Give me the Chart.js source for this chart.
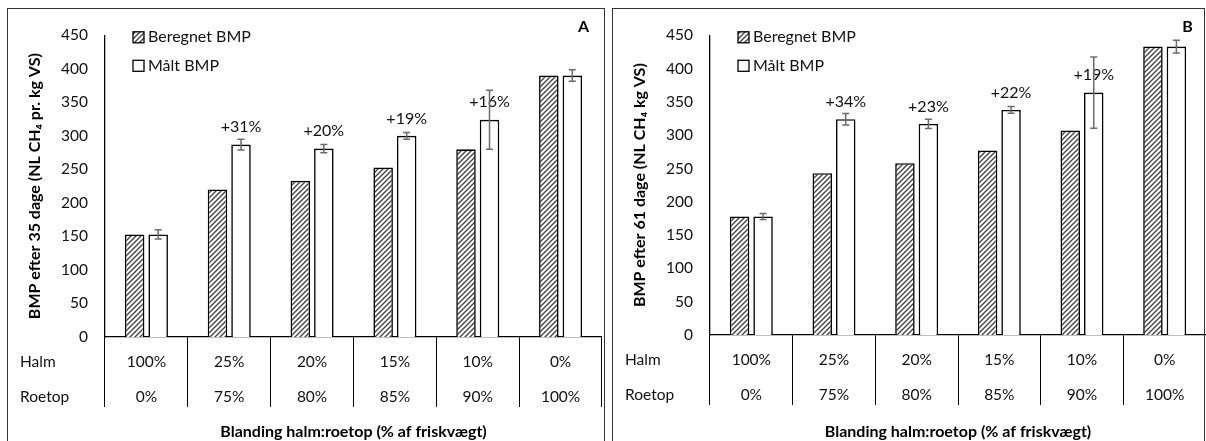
<!DOCTYPE html>
<html>
<head>
<meta charset="utf-8">
<script src="https://cdn.jsdelivr.net/npm/chart.js@4.4.1/dist/chart.umd.min.js"></script>
<style>
  body { margin: 0; background: #fff; width: 1206px; height: 441px; overflow: hidden; position: relative; }
  .panel { position: absolute; border: 1px solid #333; box-sizing: border-box; }
  #panelA { left: 7px; top: 8px; width: 598px; height: 440px; }
  #panelB { left: 612px; top: 8px; width: 593px; height: 440px; }
  canvas { position: absolute; }
  #chartA { left: 8px; top: 9px; }
  #chartB { left: 613px; top: 9px; }
</style>
</head>
<body>
<div class="panel" id="panelA"></div>
<div class="panel" id="panelB"></div>
<canvas id="chartA" width="594" height="432"></canvas>
<canvas id="chartB" width="593" height="432"></canvas>
<script>
// categories (table under the x axis)
var halm = ['100%', '25%', '20%', '15%', '10%', '0%'];
var roetop = ['0%', '75%', '80%', '85%', '90%', '100%'];
var rowLabels = ['Halm', 'Roetop'];
var seriesNames = ['Beregnet BMP', 'Målt BMP'];

// A: 35 dage
var beregnetA = [153, 220, 233, 253, 280, 390];
var maaltA = [153, 287, 281, 300, 324, 390];
var errA = [7, 8, 6, 5, 44, 8.5];
var notesA = ['', '+31%', '+20%', '+19%', '+16%', ''];

// B: 61 dage
var beregnetB = [178, 243, 258, 277, 307, 433];
var maaltB = [178, 324, 317, 338, 364, 433];
var errB = [4.5, 8.5, 7, 5, 53.5, 9.5];
var notesB = ['', '+34%', '+23%', '+22%', '+19%', ''];

var fontFam = 'Lato, "Noto Sans", sans-serif';
Chart.defaults.font.family = fontFam;
Chart.defaults.color = '#111';

function hatch() {
  var c = document.createElement('canvas');
  c.width = 5; c.height = 5;
  var g = c.getContext('2d');
  g.fillStyle = '#fff';
  g.fillRect(0, 0, 5, 5);
  g.strokeStyle = '#444';
  g.lineWidth = 1.4;
  g.beginPath();
  g.moveTo(0, 5); g.lineTo(5, 0);
  g.moveTo(-1, 1); g.lineTo(1, -1);
  g.moveTo(4, 6); g.lineTo(6, 4);
  g.stroke();
  return g.createPattern(c, 'repeat');
}

// error bars, % notes, legend, panel letter, table row names
var extras = {
  id: 'extras',
  afterDatasetsDraw: function(chart, args, opts) {
    var ctx = chart.ctx;
    var y = chart.scales.y, x = chart.scales.x;
    var area = chart.chartArea;
    var bars = chart.getDatasetMeta(1).data;
    var vals = chart.data.datasets[1].data;
    ctx.save();
    ctx.textBaseline = 'middle';

    ctx.fillStyle = '#111';
    ctx.textAlign = 'center';
    ctx.font = '16px ' + fontFam;
    bars.forEach(function(bar, i) {
      if (opts.notes[i]) ctx.fillText(opts.notes[i], bar.x, bar.y - 17.5);
    });

    ctx.strokeStyle = '#6b6b6b';
    ctx.lineWidth = 1.5;
    bars.forEach(function(bar, i) {
      var top = y.getPixelForValue(vals[i] + opts.errors[i]);
      var bot = y.getPixelForValue(vals[i] - opts.errors[i]);
      ctx.beginPath();
      ctx.moveTo(bar.x, top); ctx.lineTo(bar.x, bot);
      ctx.moveTo(bar.x - 3.5, top); ctx.lineTo(bar.x + 3.5, top);
      ctx.moveTo(bar.x - 3.5, bot); ctx.lineTo(bar.x + 3.5, bot);
      ctx.stroke();
    });

    ctx.font = 'bold 16px ' + fontFam;
    ctx.fillStyle = '#000';
    ctx.fillText(opts.letter, area.right - 18.5, 18);

    ctx.font = '16px ' + fontFam;
    ctx.textAlign = 'left';
    chart.data.datasets.forEach(function(ds, i) {
      var ly = area.top + 2 + i * 28.5;
      var lx = area.left + 28;
      ctx.fillStyle = ds.backgroundColor;
      ctx.fillRect(lx, ly - 5.5, 11, 11);
      ctx.strokeStyle = '#000';
      ctx.lineWidth = 1.3;
      ctx.strokeRect(lx, ly - 5.5, 11, 11);
      ctx.fillStyle = '#111';
      ctx.fillText(ds.label, lx + 15, ly);
    });

    ctx.font = '15.5px ' + fontFam;
    ctx.fillText(rowLabels[0], 12, x.top + 25);
    ctx.fillText(rowLabels[1], 12, x.top + 60);
    ctx.restore();
  }
};

function makeChart(id, beregnet, maalt, errs, notes, letter, yTitle, xHeight) {
  return new Chart(document.getElementById(id), {
    type: 'bar',
    data: {
      labels: halm.map(function(h, i) { return [h, roetop[i]]; }),
      datasets: [
        {
          label: seriesNames[0],
          data: beregnet,
          backgroundColor: hatch(),
          borderColor: '#000',
          borderWidth: 1.6
        },
        {
          label: seriesNames[1],
          data: maalt,
          backgroundColor: '#fff',
          borderColor: '#000',
          borderWidth: 1.6
        }
      ]
    },
    options: {
      responsive: false,
      animation: false,
      events: [],
      datasets: { bar: { categoryPercentage: 0.568, barPercentage: 0.83 } },
      layout: { padding: { top: 22, right: 0, bottom: 0, left: 0 } },
      plugins: {
        legend: { display: false },
        tooltip: { enabled: false },
        extras: { errors: errs, notes: notes, letter: letter }
      },
      scales: {
        x: {
          grid: { display: true, drawOnChartArea: false, drawTicks: true, tickLength: 70, color: '#000', offset: true },
          border: { display: true, color: '#000', width: 1.3 },
          ticks: { padding: -62.5, maxRotation: 0, autoSkip: false, color: '#111', font: { size: 15.5, lineHeight: '35px' } },
          title: {
            display: true,
            text: 'Blanding halm:roetop (% af friskvægt)',
            color: '#000',
            font: { size: 16, weight: 'bold' },
            padding: { top: 0, bottom: 0 }
          },
          afterFit: function(scale) { scale.height = xHeight; }
        },
        y: {
          min: 0,
          max: 450,
          ticks: { stepSize: 50, padding: 17, color: '#111', font: { size: 15.5 } },
          grid: { display: false, drawTicks: false },
          border: { display: true, color: '#000', width: 1.3 },
          title: {
            display: true,
            text: yTitle,
            color: '#000',
            font: { size: 16, weight: 'bold' },
            padding: { top: 17.5, bottom: 0 }
          },
          afterFit: function(scale) { scale.width = 97; }
        }
      }
    },
    plugins: [extras]
  });
}

makeChart('chartA', beregnetA, maaltA, errA, notesA, 'A', 'BMP efter 35 dage (NL CH₄ pr. kg VS)', 104);
makeChart('chartB', beregnetB, maaltB, errB, notesB, 'B', 'BMP efter 61 dage (NL CH₄ kg VS)', 106);
</script>
</body>
</html>
